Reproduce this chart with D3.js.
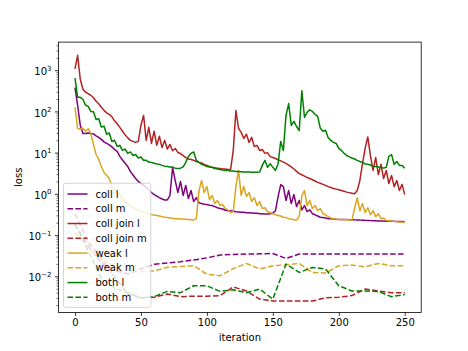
<!DOCTYPE html>
<html>
<head>
<meta charset="utf-8">
<script src="https://cdn.jsdelivr.net/npm/d3@7"></script>
<style>
body { margin: 0; background: #fff; }
svg { display: block; font-family: "DejaVu Sans", sans-serif; }
</style>
</head>
<body>
<svg id="chart" width="468" height="351"></svg>
<script>
// iterations: the "l" curves are logged every 2 steps, the "m" curves every 10
var itersL = d3.range(0, 251, 2);
var itersM = d3.range(0, 251, 10);

var collL = [
  379, 141, 46, 29, 29, 30, 29, 28.5, 25.5, 23.4,
  21, 18.2, 16.7, 15.4, 13.8, 12, 10.7, 8.1, 6.6, 5.5,
  4.6, 3.5, 2.87, 2.36, 2.0, 1.78, 1.64, 1.42, 1.24, 1.08,
  0.96, 0.88, 0.81, 0.75, 0.71, 0.71, 0.91, 4.4, 2.1, 1.08,
  2.0, 0.91, 1.59, 0.77, 1.2, 0.65, 0.81, 0.61, 0.58, 0.56,
  0.55, 0.53, 0.52, 0.49, 0.46, 0.44, 0.43, 0.40, 0.39, 0.39,
  0.38, 0.37, 0.365, 0.36, 0.357, 0.35, 0.347, 0.343, 0.34, 0.336,
  0.33, 0.328, 0.326, 0.326, 0.33, 0.34, 0.39, 0.86, 1.68, 1.5,
  0.69, 1.2, 0.58, 0.96, 0.49, 0.69, 0.41, 0.52, 0.37, 0.41,
  0.33, 0.31, 0.29, 0.27, 0.265, 0.26, 0.25, 0.248, 0.245, 0.242,
  0.24, 0.239, 0.238, 0.237, 0.236, 0.236, 0.234, 0.233, 0.231, 0.23,
  0.228, 0.227, 0.225, 0.224, 0.222, 0.22, 0.219, 0.218, 0.217, 0.216,
  0.216, 0.215, 0.214, 0.213, 0.212, 0.21
];

var collJoinL = [
  1076, 2300, 604, 345, 292, 271, 246, 214, 176, 153,
  126, 106, 92, 85, 74, 59, 50, 41, 33, 27,
  22.8, 19.8, 18.7, 17.7, 18.7, 46, 80, 19.8, 41, 16.7,
  33, 15, 25, 13.3, 19.8, 12.2, 15.8, 11.1, 12.6, 10.1,
  9.5, 8.5, 7.6, 7.0, 6.8, 6.5, 6.1, 5.8, 5.6, 5.2,
  4.9, 4.6, 4.4, 4.3, 4.2, 4.1, 4.0, 4.0, 3.9, 3.9,
  11.3, 105, 39, 31, 22, 28, 17.7, 23.4, 14, 15,
  11.3, 11.9, 9.6, 10, 8, 7.6, 7.2, 6.7, 6.3, 5.9,
  5.5, 5.0, 4.5, 4.0, 3.5, 3.1, 2.9, 2.7, 2.5, 2.35,
  2.2, 2.05, 1.9, 1.8, 1.7, 1.6, 1.5, 1.42, 1.35, 1.3,
  1.25, 1.2, 1.15, 1.1, 1.07, 1.03, 1.0, 1.2, 2.1, 5.5,
  12.7, 24, 8.5, 3.7, 7.6, 2.95, 5.2, 2.35, 3.7, 1.78,
  2.8, 1.5, 2.1, 1.2, 1.7, 0.96
];

var weakL = [
  126, 39, 37, 39, 33, 38, 29, 15.8, 9.0, 6.8,
  4.6, 3.3, 2.8, 2.36, 1.5, 1.35, 1.08, 0.93, 0.77, 0.65,
  0.58, 0.52, 0.46, 0.43, 0.40, 0.38, 0.36, 0.34, 0.33, 0.31,
  0.305, 0.30, 0.29, 0.28, 0.27, 0.265, 0.26, 0.255, 0.25, 0.248,
  0.245, 0.244, 0.243, 0.24, 0.236, 0.23, 0.25, 1.2, 2.1, 1.08,
  1.5, 0.73, 0.91, 0.58, 0.69, 0.52, 0.55, 0.44, 0.41, 0.35,
  0.37, 1.5, 3.7, 0.91, 1.5, 0.86, 1.08, 0.65, 0.81, 0.52,
  0.65, 0.44, 0.46, 0.37, 0.35, 0.33, 0.31, 0.30, 0.29, 0.27,
  0.265, 0.25, 0.245, 0.236, 0.233, 0.28, 0.91, 1.2, 0.52, 0.69,
  0.44, 0.52, 0.39, 0.44, 0.33, 0.31, 0.28, 0.26, 0.25, 0.245,
  0.242, 0.24, 0.235, 0.234, 0.233, 0.23, 0.44, 0.81, 0.39, 0.58,
  0.35, 0.46, 0.31, 0.39, 0.28, 0.33, 0.25, 0.26, 0.225, 0.222,
  0.218, 0.215, 0.21, 0.208, 0.206, 0.204
];

var bothL = [
  638, 220, 220, 197, 141, 132, 100, 98, 64, 66,
  42, 44, 28, 30, 18.5, 20, 14.2, 15, 11.3, 12.2,
  9.6, 10.4, 8.5, 9.0, 7.4, 7.8, 6.5, 6.5, 5.9, 5.8,
  5.5, 5.3, 5.2, 4.9, 4.7, 4.6, 4.5, 4.4, 4.2, 4.1,
  4.2, 4.5, 5.8, 8.1, 9.6, 10.4, 6.5, 5.8, 5.2, 4.9,
  4.6, 4.5, 4.4, 4.1, 4.0, 3.9, 3.8, 3.7, 3.7, 3.6,
  3.6, 3.5, 3.5, 3.45, 3.4, 3.4, 3.4, 3.35, 3.35, 3.35,
  3.4, 4.9, 6.5, 4.4, 5.4, 4.4, 3.7, 5.4, 18.7, 11.3,
  80, 155, 46, 57, 43, 34, 316, 72, 95, 109,
  100, 85, 76, 39, 33, 35, 23, 19.8, 17.7, 16.7,
  12.7, 11.3, 9.6, 8.5, 7.9, 7.4, 7.0, 6.5, 6.1, 5.8,
  5.3, 5.2, 5.0, 4.7, 4.6, 4.5, 4.4, 4.2, 4.4, 8.1,
  9.0, 5.2, 6.1, 4.9, 4.9, 4.2
];

var collM = [0.18, 0.055, 0.021, 0.0137, 0.0115, 0.015, 0.0195, 0.021, 0.0226, 0.0248,
  0.028, 0.0328, 0.034, 0.0347, 0.035, 0.0358, 0.0271, 0.0347, 0.0347, 0.0347,
  0.0347, 0.0347, 0.0347, 0.0347, 0.0347, 0.0347];
var collJoinM = [0.326, 0.069, 0.0267, 0.0097, 0.0037, 0.0030, 0.0031, 0.0037, 0.0032, 0.0033,
  0.0033, 0.0034, 0.0055, 0.0044, 0.0028, 0.0025, 0.0025, 0.0025, 0.0025, 0.0030,
  0.0031, 0.0034, 0.0049, 0.0044, 0.0040, 0.0040];
var weakM = [0.12, 0.05, 0.025, 0.018, 0.015, 0.0128, 0.0135, 0.0165, 0.0172, 0.018,
  0.0112, 0.0103, 0.0153, 0.0205, 0.015, 0.018, 0.019, 0.0205, 0.0124, 0.012,
  0.018, 0.0187, 0.017, 0.0205, 0.018, 0.018];
var bothM = [0.186, 0.042, 0.0087, 0.0052, 0.0040, 0.0030, 0.0032, 0.0043, 0.0040, 0.0059,
  0.0059, 0.0043, 0.0047, 0.0040, 0.0049, 0.0028, 0.0198, 0.0124, 0.0164, 0.0150,
  0.0059, 0.0044, 0.0044, 0.0043, 0.0032, 0.0036];

var xTicks = [0, 50, 100, 150, 200, 250];
var yTicks = [1e-2, 1e-1, 1, 10, 100, 1000];

var series = [
  {name: "coll l", iters: itersL, values: collL, color: "#800080", dash: null},
  {name: "coll m", iters: itersM, values: collM, color: "#800080", dash: "5.55,2.4"},
  {name: "coll join l", iters: itersL, values: collJoinL, color: "#b22222", dash: null},
  {name: "coll join m", iters: itersM, values: collJoinM, color: "#b22222", dash: "5.55,2.4"},
  {name: "weak l", iters: itersL, values: weakL, color: "#daa520", dash: null},
  {name: "weak m", iters: itersM, values: weakM, color: "#daa520", dash: "5.55,2.4"},
  {name: "both l", iters: itersL, values: bothL, color: "#008000", dash: null},
  {name: "both m", iters: itersM, values: bothM, color: "#008000", dash: "5.55,2.4"}
];

var svgWidth = 468, svgHeight = 351;
var margin = {top: 42.1, right: 46.8, bottom: 38.6, left: 58.5};
var width = svgWidth - margin.left - margin.right;
var height = svgHeight - margin.top - margin.bottom;

var svg = d3.select("#chart");
var chartGroup = svg.append("g")
  .attr("transform", `translate(${margin.left}, ${margin.top})`);

var xScale = d3.scaleLinear().domain([-12.5, 262.5]).range([0, width]);
var yScale = d3.scaleLog().domain([1.33e-3, 4800]).range([height, 0]);

chartGroup.append("clipPath").attr("id", "plotclip")
  .append("rect").attr("width", width).attr("height", height);

// lines
var lineGroup = chartGroup.append("g").attr("clip-path", "url(#plotclip)");
series.forEach(function(s) {
  var line = d3.line()
    .x((d, i) => xScale(s.iters[i]))
    .y(d => yScale(d));
  lineGroup.append("path")
    .datum(s.values)
    .attr("d", line)
    .attr("fill", "none")
    .attr("stroke", s.color)
    .attr("stroke-width", 1.5)
    .attr("stroke-linejoin", "round")
    .attr("stroke-dasharray", s.dash);
});

// x axis
var xAxis = chartGroup.append("g")
  .attr("transform", `translate(0, ${height})`)
  .call(d3.axisBottom(xScale).tickValues(xTicks).tickSize(3.5).tickPadding(3.2));
xAxis.select(".domain").remove();
xAxis.attr("font-family", null).attr("font-size", 10);
xAxis.selectAll(".tick line").attr("stroke-width", 0.8);
xAxis.selectAll(".tick text").attr("fill", "#000");

// y axis minor ticks
var minor = [];
for (var k = -3; k <= 3; k++) {
  for (var m = 2; m <= 9; m++) {
    var v = m * Math.pow(10, k);
    if (v > 1.33e-3 && v < 4800) minor.push(v);
  }
}
var yMinor = chartGroup.append("g")
  .call(d3.axisLeft(yScale).tickValues(minor).tickSize(2).tickFormat(""));
yMinor.select(".domain").remove();
yMinor.selectAll(".tick line").attr("stroke-width", 0.6);

// y axis major ticks with 10^n labels
var yAxis = chartGroup.append("g")
  .call(d3.axisLeft(yScale).tickValues(yTicks).tickSize(3.5).tickPadding(3.5).tickFormat(""));
yAxis.select(".domain").remove();
yAxis.attr("font-family", null).attr("font-size", 10);
yAxis.selectAll(".tick line").attr("stroke-width", 0.8);
yAxis.selectAll(".tick text").each(function(d) {
  var e = Math.round(Math.log10(d));
  var t = d3.select(this).attr("dy", null).attr("y", 4.6).attr("fill", "#000");
  t.append("tspan").text("10");
  t.append("tspan").attr("font-size", 7).attr("dy", -4.6)
    .text(e < 0 ? "\u2212" + (-e) : String(e));
});

// frame
chartGroup.append("rect")
  .attr("width", width).attr("height", height)
  .attr("fill", "none").attr("stroke", "#000").attr("stroke-width", 0.8);

// axis labels
svg.append("text")
  .attr("x", margin.left + width / 2).attr("y", 341)
  .attr("text-anchor", "middle").attr("font-size", 10)
  .text("iteration");
svg.append("text")
  .attr("transform", `translate(21.5, ${margin.top + height / 2}) rotate(-90)`)
  .attr("text-anchor", "middle").attr("font-size", 10)
  .text("loss");

// legend
var legend = chartGroup.append("g").attr("transform", "translate(5, " + (height - 129.1) + ")");
var legendBox = legend.append("rect")
  .attr("rx", 2).attr("ry", 2)
  .attr("fill", "#fff").attr("fill-opacity", 0.8)
  .attr("stroke", "#ccc").attr("stroke-opacity", 0.8).attr("stroke-width", 1);
var maxText = 0;
series.forEach(function(s, i) {
  var cy = 10.7 + i * 14.76;
  legend.append("line")
    .attr("x1", 4).attr("x2", 24).attr("y1", cy).attr("y2", cy)
    .attr("stroke", s.color).attr("stroke-width", 1.5)
    .attr("stroke-dasharray", s.dash);
  var txt = legend.append("text")
    .attr("x", 32).attr("y", cy).attr("dy", "0.36em")
    .attr("font-size", 10).text(s.name);
  maxText = Math.max(maxText, txt.node().getComputedTextLength());
});
legendBox.attr("width", 32 + maxText + 4).attr("height", 124.1);
</script>
</body>
</html>
